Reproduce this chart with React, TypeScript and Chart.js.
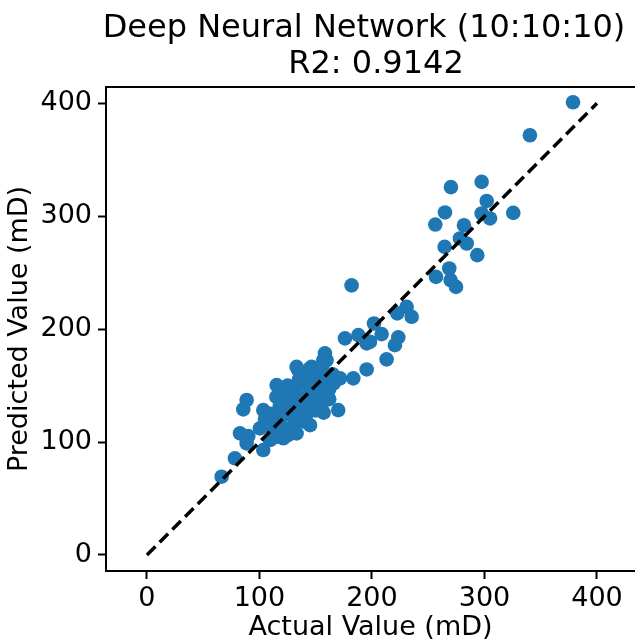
import React, { useEffect, useRef } from "react";
import { Chart, registerables } from "chart.js";

Chart.register(...registerables);

const titleLine1 = "Deep Neural Network (10:10:10)";
const titleLine2 = "R2: 0.9142";
const xLabel = "Actual Value (mD)";
const yLabel = "Predicted Value (mD)";

const actualValues: number[] = [
  378.7, 340.4, 270.2, 297.5, 302, 264.9, 297.5, 325.6, 256.3, 281.8, 304.9, 278.2, 284.2, 264.6, 293.6, 268.7,
  256.9, 269.9, 274.7, 181.9, 230.8, 222.5, 235.3, 201.8, 176, 187.9, 208.6, 223.4, 195.3, 220.4, 213, 195.3,
  183.4, 171.6, 158.2, 159.7, 134.5, 146.4, 115.3, 88.6, 85.6, 103.4, 170, 82.7, 90.1, 88.6, 103.4, 78.2,
  66.4, 100.4, 121.2, 133, 109.3, 198.2, 156.7, 133, 144.9,
  124, 130, 138, 142, 150, 155, 157, 150, 145, 140, 133, 128, 122, 118, 115, 112, 120, 126, 132, 138, 145,
  152, 158, 162, 166, 160, 148, 135, 128, 118, 110, 125, 135, 142, 150, 155, 140, 130, 113, 125, 145, 162,
  157, 152, 136, 128, 120, 165, 105, 115, 122,
];

const predictedValues: number[] = [
  400.9, 371.7, 325.7, 330.4, 313.5, 303.3, 302.4, 302.9, 292.6, 292.0, 298, 280.3, 275.8, 272.8, 265.5, 253.7,
  246.3, 243.4, 237.4, 238.7, 219.7, 213.9, 210.9, 205, 191.8, 194.7, 195.6, 192.7, 187.3, 185.8, 173.2, 164.3,
  156.4, 156.4, 178.5, 172.6, 163.7, 166.6, 150.4, 137.2, 128.9, 128.3, 128.3, 107.7, 105.3, 98.8, 92.9, 85.6,
  69.3, 112.1, 103.3, 107.7, 101.8, 188.8, 172.6, 166.6, 165.2,
  140, 146, 152, 158, 160, 162, 170, 150, 145, 138, 132, 128, 125, 120, 115, 110, 108, 112, 118, 124, 130,
  135, 140, 147, 152, 155, 140, 140, 135, 132, 125, 150, 155, 125, 128, 132, 118, 122, 104, 106, 115, 138,
  126, 146, 162, 148, 135, 160, 120, 140, 144,
];

const identityLine = [0, 400];
const tickValues = [0, 100, 200, 300, 400];

const FONT = "'DejaVu Sans', sans-serif";

export default function App() {
  const canvasRef = useRef<HTMLCanvasElement | null>(null);

  useEffect(() => {
    document.body.style.margin = "0";
    const canvas = canvasRef.current;
    if (!canvas) return;

    const points = actualValues.map((x, i) => ({ x, y: predictedValues[i] }));
    const linePts = identityLine.map((v) => ({ x: v, y: v }));

    const framePlugin = {
      id: "frameAndTitle",
      afterDraw(chart: any) {
        const { ctx, chartArea } = chart;
        ctx.save();
        ctx.strokeStyle = "#000";
        ctx.lineWidth = 2;
        ctx.beginPath();
        ctx.moveTo(chartArea.left - 1, chartArea.top);
        ctx.lineTo(chartArea.right + 2, chartArea.top);
        ctx.stroke();
        ctx.fillStyle = "#000";
        ctx.font = `32px ${FONT}`;
        ctx.textAlign = "center";
        ctx.textBaseline = "middle";
        ctx.fillText(titleLine1, 364, 29);
        ctx.fillText(titleLine2, 376, 65);
        ctx.restore();
      },
    };

    const tickFont = { family: FONT, size: 27 };

    const chart = new Chart(canvas, {
      type: "scatter",
      data: {
        datasets: [
          {
            type: "line",
            data: linePts,
            borderColor: "#000",
            borderWidth: 3.5,
            borderDash: [12, 6],
            pointRadius: 0,
            fill: false,
            order: 0,
          } as any,
          {
            data: points,
            backgroundColor: "#1f77b4",
            borderWidth: 0,
            pointRadius: 7.3,
            order: 1,
          },
        ],
      },
      plugins: [framePlugin],
      options: {
        responsive: false,
        animation: false,
        events: [],
        layout: { autoPadding: false, padding: { top: 87, right: 0, bottom: 0, left: 0 } },
        plugins: { legend: { display: false }, tooltip: { enabled: false }, title: { display: false } },
        scales: {
          x: {
            type: "linear",
            min: -36.4,
            max: 433.8,
            afterFit: (s: any) => {
              s.height = 73;
              s.paddingRight = 0;
              s.paddingLeft = 0;
            },
            afterBuildTicks: (s: any) => {
              s.ticks = tickValues.map((v) => ({ value: v }));
            },
            ticks: { font: tickFont, color: "#000", padding: 4, maxRotation: 0 },
            grid: { drawOnChartArea: false, drawTicks: true, tickLength: 8, tickWidth: 2, tickColor: "#000" },
            border: { display: true, color: "#000", width: 2 },
            title: { display: true, text: xLabel, font: { family: FONT, size: 27 }, color: "#000", padding: { top: 0, bottom: 0 } },
          },
          y: {
            type: "linear",
            min: -14.2,
            max: 414.4,
            afterFit: (s: any) => {
              s.width = 106;
              s.paddingTop = 0;
              s.paddingBottom = 0;
            },
            afterBuildTicks: (s: any) => {
              s.ticks = tickValues.map((v) => ({ value: v }));
            },
            ticks: { font: tickFont, color: "#000", padding: 6 },
            grid: { drawOnChartArea: false, drawTicks: true, tickLength: 8, tickWidth: 2, tickColor: "#000" },
            border: { display: true, color: "#000", width: 2 },
            title: { display: true, text: yLabel, font: { family: FONT, size: 27 }, color: "#000", padding: { top: 4, bottom: 0 } },
          },
        },
      },
    });

    return () => chart.destroy();
  }, []);

  return (
    <div style={{ width: 635, height: 644, background: "#fff" }}>
      <canvas ref={canvasRef} width={635} height={644} style={{ display: "block" }} />
    </div>
  );
}
